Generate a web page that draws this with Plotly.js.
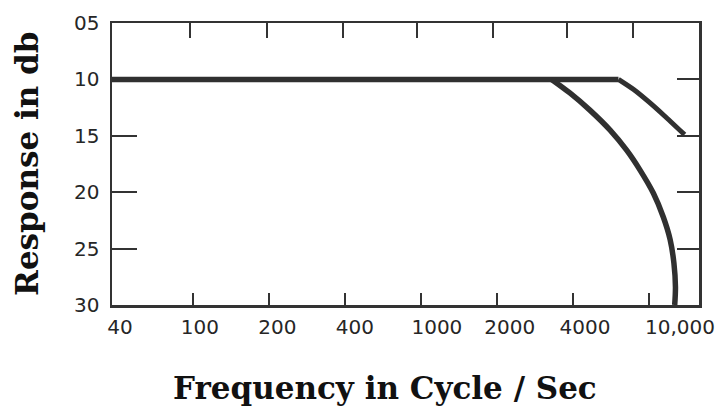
<!DOCTYPE html>
<html>
<head>
<meta charset="utf-8">
<script src="https://cdn.plot.ly/plotly-3.0.1.min.js"></script>
<style>html,body{margin:0;padding:0;background:#fff;}#chart{width:721px;height:412px;}</style>
</head>
<body>
<div id="chart"></div>
<script>
// Frequency axis is drawn with evenly spaced marks (index units), as in the original figure
var freqLabels = ['40', '100', '200', '400', '1000', '2000', '4000', '10,000'];
var freqLabelPos = [0.04, 1.09, 2.11, 3.13, 4.21, 5.17, 6.16, 7.41];
var bottomTickPos = [1, 2, 3, 4, 5, 6, 7];
var topTickPos = [0.96, 1.97, 2.97, 3.95, 4.95, 5.92, 6.79];

var dbLabels = ['05', '10', '15', '20', '25', '30'];
var dbValues = [5, 10, 15, 20, 25, 30];
var leftTickVals = [15, 20, 25];
var rightTickVals = [10, 15, 20, 25];

// Flat response (both curves share it)
var flatX = [-0.07, 6.60];
var flatY = [10, 10];

// Curve 1 roll-off (down to 30 db)
var curve1X = [5.72, 5.96, 6.22, 6.49, 6.71, 6.88, 7.06, 7.19, 7.28, 7.33, 7.35, 7.34];
var curve1Y = [10, 11.2, 12.7, 14.5, 16.3, 18.0, 20.1, 22.2, 24.2, 26.3, 28.4, 30];

// Curve 2 roll-off (down to 15 db)
var curve2X = [6.60, 6.80, 7.00, 7.20, 7.47];
var curve2Y = [10, 10.9, 12.0, 13.2, 14.9];

var xRange = [-0.066, 7.66];
var yRange = [30, 5];
var lineColor = '#303030';
var axisColor = '#333333';
var tickFont = {family: 'DejaVu Sans', size: 20, color: '#262626'};
var titleFont = {family: 'DejaVu Serif', size: 31, color: '#111111', weight: 'bold'};

function dummy(xa, ya) {
  return {x: [null], y: [null], xaxis: xa, yaxis: ya, type: 'scatter', mode: 'lines',
          hoverinfo: 'skip', showlegend: false};
}

var traces = [
  {x: flatX, y: flatY, type: 'scatter', mode: 'lines',
   line: {color: lineColor, width: 5.5}, hoverinfo: 'skip', showlegend: false},
  {x: curve1X, y: curve1Y, type: 'scatter', mode: 'lines',
   line: {color: lineColor, width: 5.5, shape: 'spline', smoothing: 1},
   hoverinfo: 'skip', showlegend: false},
  {x: curve2X, y: curve2Y, type: 'scatter', mode: 'lines',
   line: {color: lineColor, width: 5, shape: 'spline', smoothing: 0.6},
   hoverinfo: 'skip', showlegend: false},
  dummy('x2', 'y'), dummy('x3', 'y'), dummy('x', 'y2'), dummy('x', 'y3')
];

var layout = {
  width: 721, height: 412,
  margin: {l: 112, r: 22, t: 23, b: 107},
  paper_bgcolor: '#ffffff', plot_bgcolor: '#ffffff',
  showlegend: false,
  xaxis: {
    range: xRange, showgrid: false, zeroline: false,
    showline: true, linecolor: axisColor, linewidth: 2.5,
    ticks: 'inside', ticklen: 12, tickwidth: 2, tickcolor: axisColor,
    tickmode: 'array', tickvals: bottomTickPos, showticklabels: false,
    fixedrange: true
  },
  xaxis2: {
    overlaying: 'x', anchor: 'y', side: 'bottom',
    range: xRange, showgrid: false, zeroline: false, showline: false,
    ticks: '', tickmode: 'array', tickvals: freqLabelPos, ticktext: freqLabels,
    tickfont: tickFont, ticklabelstandoff: 8, fixedrange: true
  },
  xaxis3: {
    overlaying: 'x', anchor: 'y', side: 'top',
    range: xRange, showgrid: false, zeroline: false,
    showline: true, linecolor: axisColor, linewidth: 2.5,
    ticks: 'inside', ticklen: 15, tickwidth: 2, tickcolor: axisColor,
    tickmode: 'array', tickvals: topTickPos, showticklabels: false,
    fixedrange: true
  },
  yaxis: {
    range: yRange, showgrid: false, zeroline: false,
    showline: true, linecolor: axisColor, linewidth: 2.5,
    ticks: '', tickmode: 'array', tickvals: dbValues, ticktext: dbLabels,
    tickfont: tickFont, ticklabelstandoff: 6, fixedrange: true
  },
  yaxis2: {
    overlaying: 'y', anchor: 'x', side: 'left',
    range: yRange, showgrid: false, zeroline: false, showline: false,
    ticks: 'inside', ticklen: 25, tickwidth: 2, tickcolor: axisColor,
    tickmode: 'array', tickvals: leftTickVals, showticklabels: false,
    fixedrange: true
  },
  yaxis3: {
    overlaying: 'y', anchor: 'x', side: 'right',
    range: yRange, showgrid: false, zeroline: false,
    showline: true, linecolor: axisColor, linewidth: 2.5,
    ticks: 'inside', ticklen: 22, tickwidth: 2, tickcolor: axisColor,
    tickmode: 'array', tickvals: rightTickVals, showticklabels: false,
    fixedrange: true
  },
  annotations: [
    {text: 'Frequency in Cycle / Sec', xref: 'paper', yref: 'paper',
     x: 0.465, y: -0.294, xanchor: 'center', yanchor: 'middle',
     showarrow: false, font: titleFont},
    {text: 'Response in db', xref: 'paper', yref: 'paper',
     x: -0.145, y: 0.5, xanchor: 'center', yanchor: 'middle', textangle: -90,
     showarrow: false, font: titleFont}
  ]
};

Plotly.newPlot('chart', traces, layout, {displayModeBar: false, staticPlot: true});
</script>
</body>
</html>
